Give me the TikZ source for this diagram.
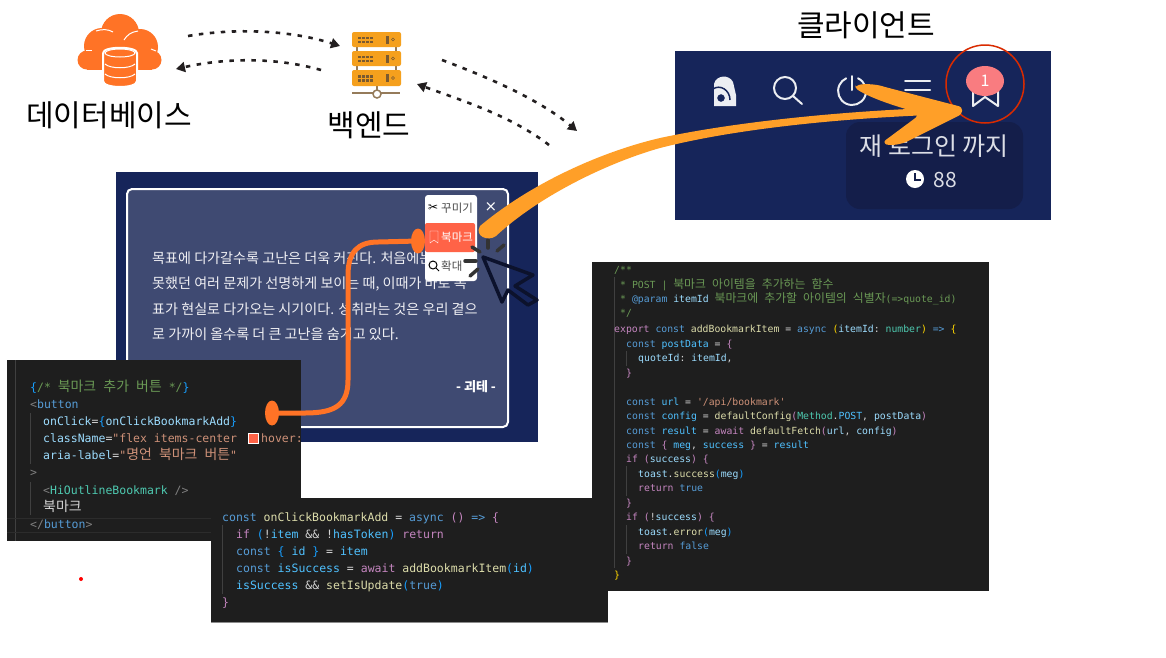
\documentclass[tikz,border=0pt]{standalone}
\usepackage{fontspec}
\usepackage{tikz}
\usetikzlibrary{arrows.meta, shapes.geometric}
\setmainfont{Noto Sans CJK KR}
\setmonofont{DejaVu Sans Mono}
\newfontfamily\krcode[Scale=1.21,WordSpace=2.3]{Noto Sans CJK KR}
\newfontfamily\symfont{DejaVu Sans}
\definecolor{navy}{HTML}{16255A}
\definecolor{navydark}{HTML}{141E4A}
\definecolor{cardfill}{HTML}{3F4A72}
\definecolor{codebg}{HTML}{1E1E1E}
\definecolor{guide}{HTML}{404040}
\definecolor{rowline}{HTML}{2C2C2C}
\definecolor{cloudorange}{HTML}{FF7326}
\definecolor{serveryellow}{HTML}{F5A01D}
\definecolor{serverdark}{HTML}{7A5A30}
\definecolor{arrowyellow}{HTML}{FF9F28}
\definecolor{arrowblack}{HTML}{231F20}
\definecolor{menured}{HTML}{FF6347}
\definecolor{badgepink}{HTML}{F97C80}
\definecolor{cComment}{HTML}{6A9955}
\definecolor{cTag}{HTML}{808080}
\definecolor{cBlue}{HTML}{569CD6}
\definecolor{cAttr}{HTML}{9CDCFE}
\definecolor{cStr}{HTML}{CE9178}
\definecolor{cComp}{HTML}{4EC9B0}
\definecolor{cText}{HTML}{D4D4D4}
\definecolor{cKey}{HTML}{C586C0}
\definecolor{cFunc}{HTML}{DCDCAA}
\definecolor{cVar}{HTML}{4FC1FF}
\definecolor{cGold}{HTML}{FFD700}
\definecolor{cBrace}{HTML}{179FFF}
\newcommand{\kr}[1]{{\krcode #1}}
\newcommand{\cm}[1]{\textcolor{cComment}{#1}}
\newcommand{\tg}[1]{\textcolor{cTag}{#1}}
\newcommand{\bl}[1]{\textcolor{cBlue}{#1}}
\newcommand{\at}[1]{\textcolor{cAttr}{#1}}
\newcommand{\st}[1]{\textcolor{cStr}{#1}}
\newcommand{\cp}[1]{\textcolor{cComp}{#1}}
\newcommand{\tx}[1]{\textcolor{cText}{#1}}
\newcommand{\ky}[1]{\textcolor{cKey}{#1}}
\newcommand{\fn}[1]{\textcolor{cFunc}{#1}}
\newcommand{\vr}[1]{\textcolor{cVar}{#1}}
\newcommand{\gd}[1]{\textcolor{cGold}{#1}}
\newcommand{\br}[1]{\textcolor{cBrace}{#1}}
\tikzset{
  title/.style={font=\fontsize{30}{32}\selectfont, text=black, inner sep=0pt},
  bodyline/.style={anchor=base west, inner sep=0pt, text=white!92!cardfill, font=\fontsize{14.1}{16}\selectfont},
  menuitem/.style={anchor=west, inner sep=0pt, font=\fontsize{11.5}{13}\selectfont},
  codeA/.style={anchor=base west, inner sep=0pt, font=\ttfamily\fontsize{11.5}{13}\selectfont},
  codeB/.style={anchor=base west, inner sep=0pt, font=\ttfamily\fontsize{9.8}{12}\selectfont},
  flowarrow/.style={draw=arrowblack, line width=2.6pt, dash pattern=on 4.5pt off 6.5pt, -{Triangle[length=9pt,width=10pt]}},
  icon/.style={draw=white!92!navy, line width=2pt, line cap=round},
  tick/.style={draw=black!80, line width=3.5pt, line cap=round},
}

\begin{document}
\begin{tikzpicture}[x=1pt,y=-1pt]
  \useasboundingbox[fill=white] (0,0) rectangle (1166,657);

  \fill[cloudorange] (120,33) circle [radius=19];
  \fill[cloudorange] (102,46) circle [radius=18];
  \fill[cloudorange] (140,47) circle [radius=18];
  \fill[cloudorange] (87,60) circle [radius=9.5];
  \fill[cloudorange] (152,60) circle [radius=9.5];
  \fill[cloudorange] (87,50) rectangle (152,69.5);
  \draw[white, line width=1pt] (96,31) .. controls (102,29) and (108,29) .. (113,32);
  \draw[white, line width=1pt] (124,40) .. controls (127,35) and (131,32) .. (138,31);
  \draw[white, line width=1pt] (86,50) -- (92,50);
  \draw[white, line width=1pt] (151,49) -- (156,51);
  \draw[white, fill=cloudorange, line width=2pt] (103,53) -- (103,81) .. controls (103,89) and (137,89) .. (137,81) -- (137,53) .. controls (137,46) and (103,46) .. (103,53);
  \draw[white, line width=1pt] (120,53) ellipse [x radius=15, y radius=4];
  \draw[white, line width=1pt] (105,64) .. controls (110,69) and (130,69) .. (135,64);
  \draw[white, line width=1pt] (105,74) .. controls (110,79) and (130,79) .. (135,74);
  \node[title] (dbLabel) at (109,115) {데이터베이스};

  \draw[serverdark!80, line width=1.5pt] (357,47) -- (357,70) (396,47) -- (396,70);
  \draw[serverdark!80, line width=1.5pt] (352,93) -- (400,93);
  \draw[serverdark!80, line width=1.5pt] (377,86) -- (377,90);
  \draw[serverdark!80, fill=white, line width=1.5pt] (377,94) circle [radius=4];
  \fill[serveryellow, rounded corners=2pt] (352,32) rectangle (401,47);
  \fill[serveryellow, rounded corners=2pt] (352,51) rectangle (401,66);
  \fill[serveryellow, rounded corners=2pt] (352,70) rectangle (401,86);
  \foreach \rowy in {39.5,58.5,78} {
    \foreach \dotx in {358,362,366,370} {
      \fill[serverdark] (\dotx,\rowy-3) rectangle +(2.5,2.5);
      \fill[serverdark] (\dotx,\rowy+1) rectangle +(2.5,2.5);
    }
    \fill[serverdark] (386,\rowy-4) rectangle +(2.5,8);
    \draw[serverdark] (393,\rowy) circle [radius=1.5];
  }
  \node[title] (backLabel) at (369,125) {백엔드};

  \coordinate (dbOut) at (188,36);
  \coordinate (backIn) at (340,46);
  \coordinate (backOut) at (321,70);
  \coordinate (dbIn) at (176,69);
  \coordinate (backOutR) at (442,60);
  \coordinate (clientIn) at (577,131);
  \coordinate (clientOut) at (549,145);
  \coordinate (backInR) at (417,84);
  \draw[flowarrow] (dbOut) .. controls (235,28) and (290,30) .. (backIn);
  \draw[flowarrow] (backOut) .. controls (275,57) and (225,58) .. (dbIn);
  \draw[flowarrow] (backOutR) .. controls (490,78) and (540,100) .. (clientIn);
  \draw[flowarrow] (clientOut) .. controls (510,115) and (460,100) .. (backInR);

  \node[title] (clientLabel) at (866,25) {클라이언트};
  \fill[navy] (675,51) rectangle (1051,220);
  \fill[navydark, rounded corners=14pt] (846,122) rectangle (1023,209);
  \fill[white!92!navy] (714,84) .. controls (716,75) and (729,74) .. (733,82) -- (736,95) -- (736,106) -- (714,106) -- cycle;
  \draw[navy, line width=1.5pt] (713,89) .. controls (720,84) and (730,90) .. (730,100);
  \draw[white!92!navy, fill=navy, line width=2pt] (721,98) circle [radius=5];
  \draw[icon] (785,88) circle [radius=11] (793,96) -- (802,104);
  \draw[icon] (858,78.3) arc [start angle=-65, end angle=245, radius=14];
  \draw[icon] (852,76) -- (852,90);
  \draw[icon] (905,81) -- (930,81) (905,90) -- (930,90) (905,100) -- (930,100);
  \draw[icon, line join=round] (973,85) -- (973,106) -- (985,97) -- (998,106) -- (998,85);
  \node[ellipse, fill=badgepink, minimum width=38pt, minimum height=30pt, inner sep=0pt, text=white, font=\fontsize{16}{18}\selectfont] (badge) at (985,81) {1};
  \node[inner sep=0pt, text=white!85!navy, font=\fontsize{25}{27}\selectfont] (relogin) at (934,146) {재 로그인 까지};
  \fill[white] (915,179) circle [radius=9];
  \draw[navydark, line width=1.3pt] (915,173) -- (915,180) -- (921,180);
  \node[inner sep=0pt, text=white!85!navy, font=\fontsize{21}{23}\selectfont] (timeLeft) at (945,180) {88};
  \draw[red!60!orange!85!black, line width=1.5pt] (985,84) ellipse [x radius=39, y radius=39];

  \fill[navy] (116,172) rectangle (538,442);
  \draw[white, fill=cardfill, line width=2pt, rounded corners=5pt] (127,189) rectangle (508,427);
  \node[bodyline] (quoteA) at (152,263) {목표에 다가갈수록 고난은 더욱 커진다. 처음에는};
  \node[bodyline] (quoteB) at (152,288) {못했던 여러 문제가 선명하게 보이는 때, 이때가 바로 목};
  \node[bodyline] (quoteC) at (152,314) {표가 현실로 다가오는 시기이다. 성취라는 것은 우리 곁으};
  \node[bodyline] (quoteD) at (152,339) {로 가까이 올수록 더 큰 고난을 숨기고 있다.};
  \node[inner sep=0pt, text=white, font=\bfseries\fontsize{13}{15}\selectfont] (author) at (476,387) {- 괴테 -};
  \node[inner sep=0pt, text=white, font=\symfont\fontsize{15}{15}\selectfont] (closeX) at (491,207) {×};

  \fill[white, rounded corners=3pt] (425,195) rectangle (477,281);
  \fill[menured, rounded corners=2pt] (425,223) rectangle (475,252);
  \node[menuitem, text=black, font=\symfont\fontsize{12}{13}\selectfont] (scissors) at (428,208) {✂};
  \node[menuitem, text=black!70] (menuDeco) at (441,208) {꾸미기};
  \draw[white] (430,231) -- (430,243) -- (434,240) -- (438,243) -- (438,231) -- cycle;
  \node[menuitem, text=white] (menuMark) at (441,237) {북마크};
  \draw[black, line width=1pt] (433,265) circle [radius=4] (436,268) -- (439,271);
  \node[menuitem, text=black!70] (menuZoom) at (441,266) {확대};

  \draw[tick] (472,247) -- (480,252);
  \draw[tick] (488,240) -- (488,248);
  \draw[tick] (497,251) -- (504,245);
  \draw[tick] (465,261) -- (476,261);
  \draw[tick] (470,276) -- (478,269);
  \draw[navydark!60!black, line width=3.5pt, line join=round] (483,257) -- (533,275) -- (515,286) -- (537,300) -- (528,305) -- (508,290) -- (502,302) -- cycle;

  \fill[codebg] (592,262) rectangle (989,591);
  \draw[guide, line width=.5pt] (614,277) -- (614,568);
  \draw[guide, line width=.5pt] (626,351) -- (626,366) (626,466) -- (626,496) (626,525) -- (626,554);
  \node[codeB] (addA) at (614,273.5) {\cm{/**}};
  \node[codeB] (addB) at (620,288.5) {\cm{* POST | \kr{북마크 아이템을 추가하는 함수}}};
  \node[codeB] (addC) at (620,302.5) {\cm{*} \bl{@param} \at{itemId} \cm{\kr{북마크에 추가할 아이템의 식별자}(=>quote\_id)}};
  \node[codeB] (addD) at (620,316.5) {\cm{*/}};
  \node[codeB] (addE) at (614,332.5) {\ky{export} \bl{const} \fn{addBookmarkItem} \tx{=} \bl{async} \gd{(}\at{itemId}\tx{:} \cp{number}\gd{)} \bl{=>} \gd{\{}};
  \node[codeB] (addF) at (626,347.5) {\bl{const} \vr{postData} \tx{=} \ky{\{}};
  \node[codeB] (addG) at (638,361.5) {\at{quoteId}\tx{:} \at{itemId}\tx{,}};
  \node[codeB] (addH) at (626,376.5) {\ky{\}}};
  \node[codeB] (addI) at (626,405.5) {\bl{const} \vr{url} \tx{=} \st{'/api/bookmark'}};
  \node[codeB] (addJ) at (626,419.5) {\bl{const} \vr{config} \tx{=} \fn{defaultConfig}\ky{(}\cp{Method}\tx{.}\vr{POST}\tx{,} \at{postData}\ky{)}};
  \node[codeB] (addK) at (626,434.5) {\bl{const} \vr{result} \tx{=} \ky{await} \fn{defaultFetch}\ky{(}\at{url}\tx{,} \at{config}\ky{)}};
  \node[codeB] (addL) at (626,448.5) {\bl{const} \ky{\{} \vr{meg}\tx{,} \vr{success} \ky{\}} \tx{=} \vr{result}};
  \node[codeB] (addM) at (626,462.5) {\ky{if} \ky{(}\at{success}\ky{)} \ky{\{}};
  \node[codeB] (addN) at (638,477.5) {\at{toast}\tx{.}\fn{success}\br{(}\at{meg}\br{)}};
  \node[codeB] (addO) at (638,491.5) {\ky{return} \bl{true}};
  \node[codeB] (addP) at (626,506.5) {\ky{\}}};
  \node[codeB] (addQ) at (626,520.5) {\ky{if} \ky{(}\tx{!}\at{success}\ky{)} \ky{\{}};
  \node[codeB] (addR) at (638,535.5) {\at{toast}\tx{.}\fn{error}\br{(}\at{meg}\br{)}};
  \node[codeB] (addS) at (638,549.5) {\ky{return} \bl{false}};
  \node[codeB] (addT) at (626,564.5) {\ky{\}}};
  \node[codeB] (addU) at (614,578.5) {\gd{\}}};

  \fill[codebg] (7,360) rectangle (301,541);
  \draw[guide, line width=.5pt] (15,360) -- (15,541);
  \draw[guide, line width=.5pt] (30,413) -- (30,464) (30,482) -- (30,515);
  \draw[rowline, line width=.5pt] (7,518) -- (211,518) (7,532) -- (211,532);
  \node[codeA] (btnA) at (30,391) {\br{\{}\cm{/* \kr{북마크 추가 버튼} */}\br{\}}};
  \node[codeA] (btnB) at (30,408) {\tg{<}\bl{button}};
  \node[codeA] (btnC) at (43,425) {\at{onClick}\tx{=}\br{\{}\at{onClickBookmarkAdd}\br{\}}};
  \node[codeA] (btnD) at (43,442) {\at{className}\tx{=}\st{"flex items-center}};
  \draw[white, fill=menured, line width=.5pt] (248,433) rectangle (258,443);
  \node[codeA] (btnE) at (261,442) {\st{hover:}};
  \node[codeA] (btnF) at (43,459) {\at{aria-label}\tx{=}\st{"\kr{명언 북마크 버튼}"}};
  \node[codeA] (btnG) at (30,476) {\tg{>}};
  \node[codeA] (btnH) at (43,494) {\tg{<}\cp{HiOutlineBookmark} \tg{/>}};
  \node[codeA] (btnI) at (43,511) {\tx{\kr{북마크}}};
  \node[codeA] (btnJ) at (30,528) {\tg{</}\bl{button}\tg{>}};

  \fill[codebg] (211,498) rectangle (608,622);
  \draw[black!45, line width=.6pt] (211,622) -- (608,622);
  \draw[guide, line width=.5pt] (222,525) -- (222,594);
  \node[codeA] (addBtnA) at (222,521) {\bl{const} \fn{onClickBookmarkAdd} \tx{=} \bl{async} \ky{()} \bl{=>} \ky{\{}};
  \node[codeA] (addBtnB) at (236,538) {\ky{if} \br{(}\tx{!}\vr{item} \tx{\&\&} \tx{!}\vr{hasToken}\br{)} \ky{return}};
  \node[codeA] (addBtnC) at (236,555) {\bl{const} \br{\{} \vr{id} \br{\}} \tx{=} \vr{item}};
  \node[codeA] (addBtnD) at (236,572) {\bl{const} \vr{isSuccess} \tx{=} \ky{await} \fn{addBookmarkItem}\br{(}\vr{id}\br{)}};
  \node[codeA] (addBtnE) at (236,589) {\vr{isSuccess} \tx{\&\&} \fn{setIsUpdate}\br{(}\bl{true}\br{)}};
  \node[codeA] (addBtnF) at (222,606) {\ky{\}}};

  \fill[red] (81,579) circle [radius=2];

  \node[ellipse, fill=cloudorange, minimum width=14pt, minimum height=25pt, inner sep=0pt] (sourceDot) at (272,413) {};
  \node[ellipse, fill=cloudorange, minimum width=14pt, minimum height=25pt, inner sep=0pt] (menuDot) at (418,241) {};
  \draw[cloudorange, line width=5pt] (sourceDot.center) -- (305,413) .. controls (335,413) and (348,405) .. (348,380) -- (348,275) .. controls (348,252) and (358,242) .. (378,242) -- (menuDot.center);

  \fill[arrowyellow] (480,226) .. controls (530,184) and (600,152) .. (660,138) .. controls (730,123) and (830,112) .. (930,108) -- (930,115) .. controls (830,119) and (730,130) .. (660,148) .. controls (610,162) and (540,195) .. (496,236) .. controls (488,242) and (474,236) .. (480,226) -- cycle;
  \fill[arrowyellow, rounded corners=3pt] (855,88) .. controls (860,83) and (875,84) .. (885,87) -- (962,107) -- (962,114) -- (910,140) .. controls (900,145) and (888,146) .. (883,142) -- (918,116) -- (916,112) .. controls (895,106) and (870,98) .. (855,88) -- cycle;
\end{tikzpicture}
\end{document}
